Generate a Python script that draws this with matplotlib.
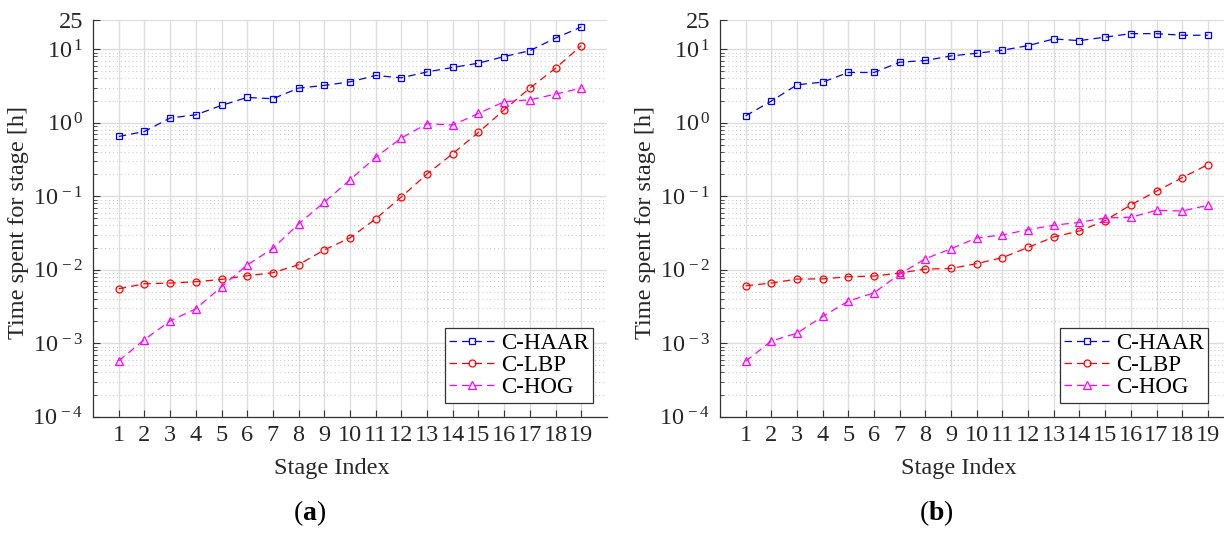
import numpy as np
import matplotlib
matplotlib.use('Agg')
import matplotlib.pyplot as plt
from matplotlib.ticker import FixedLocator, FixedFormatter

plt.rcParams['font.family'] = ['Liberation Serif', 'DejaVu Serif']
plt.rcParams['mathtext.fontset'] = 'custom'
plt.rcParams['mathtext.rm'] = 'Liberation Serif'
plt.rcParams['mathtext.it'] = 'Liberation Serif:italic'
plt.rcParams['mathtext.bf'] = 'Liberation Serif:bold'

stages = list(range(1, 20))
names = ['C-HAAR', 'C-LBP', 'C-HOG']

# (a)
haar_a = [0.65, 0.76, 1.16, 1.28, 1.72, 2.21, 2.12, 2.96, 3.22, 3.6,
          4.4, 4.08, 4.92, 5.65, 6.46, 7.95, 9.55, 14.2, 20.1]
lbp_a = [0.0055, 0.00644, 0.00658, 0.00686, 0.00738, 0.00828, 0.0091, 0.0117, 0.0186, 0.0271,
         0.0492, 0.098, 0.201, 0.38, 0.74, 1.5, 2.96, 5.52, 11.2]
hog_a = [0.000574, 0.00112, 0.00201, 0.00294, 0.00586, 0.0116, 0.0195, 0.042, 0.0828, 0.167,
         0.339, 0.62, 0.97, 0.93, 1.34, 1.93, 2.05, 2.45, 2.96]

# (b)
haar_b = [1.24, 1.97, 3.28, 3.57, 4.83, 4.83, 6.66, 7.03, 8.11, 8.82,
          9.69, 11.2, 13.8, 13.1, 14.6, 16.3, 16.3, 15.5, 15.5]
lbp_b = [0.00605, 0.00658, 0.00746, 0.0075, 0.00803, 0.0082, 0.0090, 0.0102, 0.0104, 0.0121,
         0.0146, 0.0201, 0.0279, 0.0337, 0.0466, 0.0763, 0.117, 0.179, 0.269]
hog_b = [0.000568, 0.00107, 0.00137, 0.00231, 0.00374, 0.00485, 0.00873, 0.0141, 0.0193, 0.0271,
         0.0297, 0.0351, 0.0402, 0.0442, 0.0506, 0.0516, 0.0644, 0.063, 0.0752]

ytick_vals = [1e-4, 1e-3, 1e-2, 1e-1, 1, 10, 25]
ytick_labels = [r'$10^{\,-4}$', r'$10^{\,-3}$', r'$10^{\,-2}$', r'$10^{\,-1}$',
                r'$10^{\,0}$', r'$10^{\,1}$', '25']

colors = ['#0000ff', '#ff0000', '#ff00ff']
markers = ['s', 'o', '^']
msizes = [4.2, 5.0, 5.5]

fig = plt.figure(figsize=(12.24, 5.33), dpi=100)
ax1 = fig.add_axes([0.076, 0.2182, 0.4199, 0.7443])
ax2 = fig.add_axes([0.5882, 0.2182, 0.4196, 0.7443])


def draw(ax, series):
    for vals, name, c, m, ms in zip(series, names, colors, markers, msizes):
        ax.plot(stages, vals, color=c, marker=m, markersize=ms, markerfacecolor='none',
                markeredgewidth=0.9, linewidth=0.9, linestyle=(0, (6, 4)), label=name)
    ax.set_yscale('log')
    ax.set_xlim(0, 20)
    ax.set_ylim(1e-4, 25)
    ax.xaxis.set_major_locator(FixedLocator(stages))
    ax.set_xticklabels([str(s) for s in stages])
    ax.yaxis.set_major_locator(FixedLocator(ytick_vals))
    ax.yaxis.set_major_formatter(FixedFormatter(ytick_labels))
    minors = [k * 10.0 ** e for e in range(-4, 1) for k in range(2, 10)]
    ax.yaxis.set_minor_locator(FixedLocator(minors))
    ax.yaxis.set_minor_formatter(FixedFormatter([''] * len(minors)))
    ax.tick_params(axis='both', which='major', direction='in', labelsize=17.5,
                   length=5, width=0.8, color='#333333', pad=7, labelcolor='#262626')
    ax.tick_params(axis='y', which='minor', direction='in', length=3, width=0.6, color='#333333')
    ax.tick_params(axis='x', pad=6)
    ax.grid(True, which='major', color='#dddddd', linewidth=1.0, linestyle='-')
    ax.grid(True, which='minor', axis='y', color='#cccccc', linewidth=0.8, linestyle=(0, (1, 2.5)))
    ax.set_axisbelow(True)
    for s in ['top', 'right']:
        ax.spines[s].set_visible(False)
    for s in ['left', 'bottom']:
        ax.spines[s].set_color('#333333')
        ax.spines[s].set_linewidth(0.9)
    ax.set_xlabel('Stage Index', fontsize=17.5, color='#262626')
    ax.xaxis.set_label_coords(0.465, -0.105)
    ax.set_ylabel('Time spent for stage [h]', fontsize=17.5, color='#262626')
    ax.yaxis.set_label_coords(-0.145, 0.49)
    ax.yaxis.label.set_va('center')
    leg = ax.legend(loc='lower right', fontsize=16.5, fancybox=False, framealpha=1,
                    edgecolor='#333333', handlelength=2.0, handletextpad=0.25,
                    borderpad=0.2, labelspacing=0.05, borderaxespad=0.6)
    leg.get_frame().set_linewidth(0.9)


draw(ax1, [haar_a, lbp_a, hog_a])
draw(ax2, [haar_b, lbp_b, hog_b])
ax2.get_legend().set_bbox_to_anchor((0.977, 0.0), transform=ax2.transAxes)

fig.text(0.2525, 0.038, r'($\mathbf{a}$)', fontsize=20, ha='center', va='center')
fig.text(0.765, 0.038, r'($\mathbf{b}$)', fontsize=20, ha='center', va='center')

fig.savefig('out.png', dpi=100)
